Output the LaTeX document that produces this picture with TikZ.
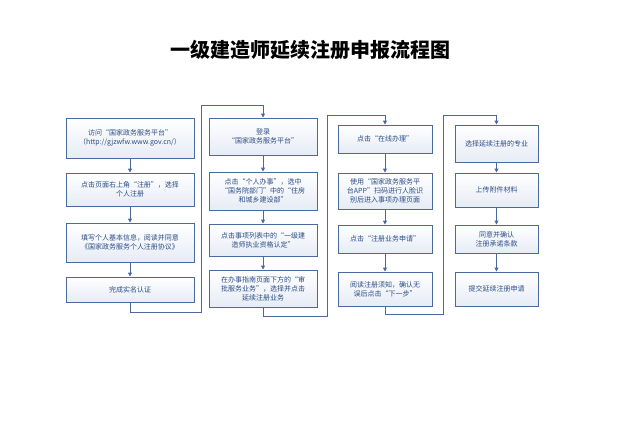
\documentclass[tikz,border=0pt]{standalone}
\usepackage{fontspec}
\setmainfont{Noto Sans CJK SC}
\usetikzlibrary{arrows.meta,shadows}
\definecolor{bd}{HTML}{4A6A9E}
\definecolor{tx}{HTML}{2B4C86}
\definecolor{fl}{HTML}{E6ECF5}
\tikzset{
 box/.style={draw=bd,line width=0.9pt,top color=white,bottom color=fl,text=tx,font=\fontsize{7}{9}\selectfont,align=center,inner sep=1pt,drop shadow={shadow xshift=1pt,shadow yshift=-1pt,opacity=0.25}},
 ar/.style={draw=bd,line width=0.9pt,-{Triangle[length=4pt,width=4pt]}},
 ln/.style={draw=bd,line width=0.9pt}
}
\newcommand{\bx}[6]{\node[box,minimum width=#4-#2,minimum height=#5-#3] (#1) at ({(#2+#4)/2},{(#3+#5)/2}) {#6};}
\begin{document}
\begin{tikzpicture}[x=1pt,y=-1pt]
\useasboundingbox (0,0) rectangle (640,423);
\node (t) at (310,50) {\fontsize{20}{22}\selectfont\bfseries 一级建造师延续注册申报流程图};
\bx{a1}{66}{118}{194}{158}{访问“国家政务服务平台”\\（http://gjzwfw.www.gov.cn/）}
\bx{a2}{66}{173}{194}{206}{点击页面右上角“注册”，选择\\个人注册}
\bx{a3}{66}{223}{194}{262}{填写个人基本信息，阅读并同意\\《国家政务服务个人注册协议》}
\bx{a4}{66}{277}{194}{302}{完成实名认证}
\bx{b1}{209}{118}{317}{155}{登录\\“国家政务服务平台”}
\bx{b2}{209}{172}{317}{210}{点击“个人办事”，选中\\“国务院部门”中的“住房\\和城乡建设部”}
\bx{b3}{209}{224}{317}{256}{点击事项列表中的“一级建\\造师执业资格认定”}
\bx{b4}{209}{270}{317}{307}{在办事指南页面下方的“审\\批服务业务”，选择并点击\\延续注册业务}
\bx{c1}{338}{125}{432}{153}{点击“在线办理”}
\bx{c2}{338}{173}{432}{209}{使用“国家政务服务平\\台APP”扫码进行人脸识\\别后进入事项办理页面}
\bx{c3}{338}{225}{432}{253}{点击“注册业务申请”}
\bx{c4}{338}{272}{432}{306}{阅读注册须知，确认无\\误后点击“下一步”}
\bx{d1}{455}{125}{538}{162}{选择延续注册的专业}
\bx{d2}{455}{173}{538}{207}{上传附件材料}
\bx{d3}{455}{225}{538}{253}{同意并确认\\注册承诺条款}
\bx{d4}{455}{272}{538}{306}{提交延续注册申请}
\foreach \p/\q in {a1/a2,a2/a3,a3/a4,b1/b2,b2/b3,b3/b4,c1/c2,c2/c3,c3/c4,d1/d2,d2/d3,d3/d4}
  \draw[ar] (\p.south) -- (\q.north);
\draw[ar] (a4.south) -- ++(0,10) -| (201,105) -| (b1.north);
\draw[ar] (b4.south) -- ++(0,9) -| (327,115) -| (c1.north);
\draw[ar] (c4.south) -- ++(0,8) -| (443,115) -| (d1.north);
\end{tikzpicture}
\end{document}
